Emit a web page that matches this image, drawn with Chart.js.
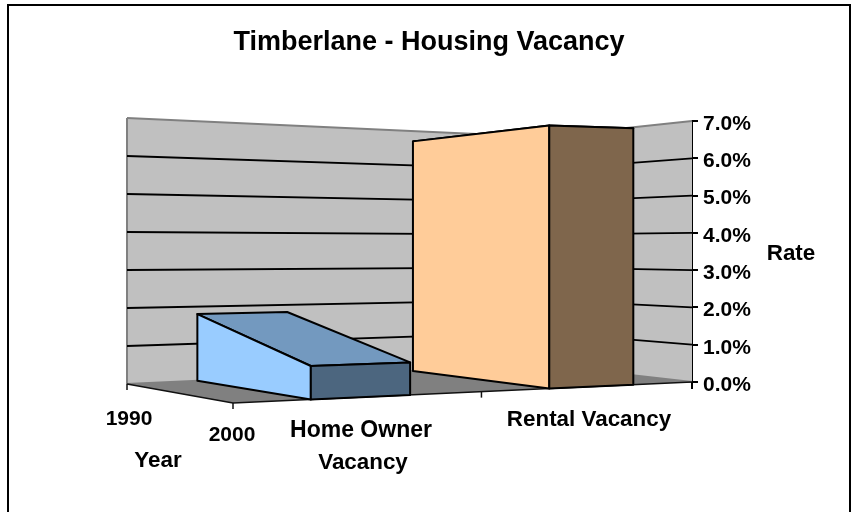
<!DOCTYPE html>
<html>
<head>
<meta charset="utf-8">
<title>Timberlane - Housing Vacancy</title>
<script src="https://cdn.jsdelivr.net/npm/chart.js@4"></script>
<style>
    html, body { margin: 0; padding: 0; background: #fff; }
    canvas { display: block; }
</style>
</head>
<body>
<canvas id="chart" width="851" height="512"></canvas>
<script>
// values
const categories = ['Home Owner Vacancy', 'Rental Vacancy'];
const years = ['1990', '2000'];
const rate1990 = [1.8, 6.7];
const rate2000 = [0.8, 6.75];
const rateTicks = [0, 1, 2, 3, 4, 5, 6, 7];

const FAMILY = '"Liberation Sans", Arial, sans-serif';

// floor/top corners of the 3D box as they land on screen
const BOX = {
    backLeft: { x: 127, floor: 384, top: 118 },
    front: { x: 233, floor: 403, top: 104 },
    rear: { x: 542, floor: 365, top: 137 },
    right: { x: 692, floor: 382, top: 121 }
};

const FACES = [
    { top: '#7399BF', side: '#99CCFF', front: '#4C667F' },
    { top: '#BF9973', side: '#FFCC99', front: '#7F664C' }
];

const BAR_HALF = 0.1;
const CAT_SPREAD = 1.01;
const PERSPECTIVE = 1.18;

function lerp(a, b, t) {
    return a + (b - a) * t;
}

// u along the category axis, d towards the viewer (0 = 1990, 1 = 2000), h = share of value axis
function project(u, d, h) {
    // a bit of perspective on the category axis
    const w = u * PERSPECTIVE / (1 - u + u * PERSPECTIVE);
    const b = BOX;
    const nearX = lerp(b.front.x, b.right.x, w);
    const farX = lerp(b.backLeft.x, b.rear.x, w);
    const nearF = lerp(b.front.floor, b.right.floor, w);
    const farF = lerp(b.backLeft.floor, b.rear.floor, w);
    const nearT = lerp(b.front.top, b.right.top, w);
    const farT = lerp(b.backLeft.top, b.rear.top, w);
    return {
        x: lerp(farX, nearX, d),
        y: lerp(lerp(farF, nearF, d), lerp(farT, nearT, d), h)
    };
}

function poly(ctx, pts, fill, stroke, lineWidth) {
    ctx.beginPath();
    pts.forEach((p, i) => i ? ctx.lineTo(p.x, p.y) : ctx.moveTo(p.x, p.y));
    ctx.closePath();
    if (fill) {
        ctx.fillStyle = fill;
        ctx.fill();
    }
    if (stroke) {
        ctx.strokeStyle = stroke;
        ctx.lineWidth = lineWidth;
        ctx.lineJoin = 'round';
        ctx.stroke();
    }
}

function segment(ctx, x1, y1, x2, y2, color, lineWidth) {
    ctx.beginPath();
    ctx.moveTo(x1, y1);
    ctx.lineTo(x2, y2);
    ctx.strokeStyle = color;
    ctx.lineWidth = lineWidth;
    ctx.stroke();
}

const heightOf = (scale, v) => (scale.bottom - scale.getPixelForValue(v)) / (scale.bottom - scale.top);

const housing3d = {
    id: 'housing3d',
    afterLayout(chart) {
        // title is centred on the chart box, not on what is left beside the padding
        chart.titleBlock.left = 7;
        chart.titleBlock.right = 851;
    },
    beforeDatasetsDraw(chart) {
        const ctx = chart.ctx;
        const y = chart.scales.y;
        const b = BOX;
        ctx.save();

        // back walls
        poly(ctx, [
            { x: b.backLeft.x, y: b.backLeft.floor }, { x: b.backLeft.x, y: b.backLeft.top },
            { x: b.rear.x, y: b.rear.top }, { x: b.right.x, y: b.right.top },
            { x: b.right.x, y: b.right.floor }, { x: b.rear.x, y: b.rear.floor }
        ], '#C0C0C0');
        segment(ctx, b.backLeft.x, b.backLeft.floor, b.backLeft.x, b.backLeft.top, '#808080', 2);

        // floor
        poly(ctx, [
            { x: b.backLeft.x, y: b.backLeft.floor }, { x: b.front.x, y: b.front.floor },
            { x: b.right.x, y: b.right.floor }, { x: b.rear.x, y: b.rear.floor }
        ], '#808080');

        // gridlines follow the walls
        rateTicks.forEach(v => {
            const h = heightOf(y, v);
            const color = (v === 0 || v === rateTicks[rateTicks.length - 1]) ? '#808080' : '#000';
            const yl = lerp(b.backLeft.floor, b.backLeft.top, h);
            const yr = lerp(b.rear.floor, b.rear.top, h);
            const yn = lerp(b.right.floor, b.right.top, h);
            ctx.lineJoin = 'round';
            ctx.beginPath();
            ctx.moveTo(b.backLeft.x, yl);
            ctx.lineTo(b.rear.x, yr);
            ctx.lineTo(b.right.x, yn);
            ctx.strokeStyle = color;
            ctx.lineWidth = 1.8;
            ctx.stroke();
        });

        // axes on the floor
        segment(ctx, b.backLeft.x, b.backLeft.floor, b.front.x, b.front.floor, '#111', 1.5);
        segment(ctx, b.front.x, b.front.floor, b.right.x, b.right.floor, '#111', 1.5);
        segment(ctx, b.backLeft.x, b.backLeft.floor, b.backLeft.x, b.backLeft.floor + 6, '#111', 1.5);
        segment(ctx, b.front.x, b.front.floor, b.front.x, b.front.floor + 6, '#111', 1.5);
        const mid = project(0.5, 1, 0);
        segment(ctx, mid.x, mid.y, mid.x, mid.y + 6, '#111', 1.5);
        segment(ctx, b.right.x, b.right.floor, b.right.x, b.right.floor + 7, '#000', 2);

        ctx.restore();
    },
    afterDatasetsDraw(chart) {
        const ctx = chart.ctx;
        const { x: xs, y } = chart.scales;
        const [back, near] = chart.data.datasets;
        ctx.save();

        categories.forEach((_, i) => {
            const raw = (xs.getPixelForValue(i) - chart.chartArea.left) / chart.chartArea.width;
            const u = 0.5 + (raw - 0.5) * CAT_SPREAD;
            const u0 = u - BAR_HALF;
            const u1 = u + BAR_HALF;
            const hb = heightOf(y, back.data[i]);
            const hn = heightOf(y, near.data[i]);
            const c = FACES[i];

            poly(ctx, [project(u0, 0, hb), project(u1, 0, hb), project(u1, 1, hn), project(u0, 1, hn)], c.top, '#000', 2);
            poly(ctx, [project(u0, 0, 0), project(u0, 0, hb), project(u0, 1, hn), project(u0, 1, 0)], c.side, '#000', 2);
            poly(ctx, [project(u0, 1, 0), project(u0, 1, hn), project(u1, 1, hn), project(u1, 1, 0)], c.front, '#000', 2);
        });

        // labels the library has no place for on a slanted axis
        ctx.fillStyle = '#000';
        ctx.textAlign = 'center';
        ctx.textBaseline = 'middle';
        ctx.font = 'bold 21px ' + FAMILY;
        ctx.fillText(years[0], 129, 419);
        ctx.fillText(years[1], 232, 435);
        ctx.font = 'bold 22.4px ' + FAMILY;
        ctx.fillText('Year', 158, 461);
        ctx.fillText('Vacancy', 363, 463);
        ctx.fillText('Rate', 791, 254);
        ctx.fillText(categories[1], 589, 420);
        ctx.font = 'bold 23px ' + FAMILY;
        ctx.fillText('Home Owner', 361, 431);

        // outer frame, the picture is cut off below
        ctx.beginPath();
        ctx.moveTo(8, 512);
        ctx.lineTo(8, 5);
        ctx.lineTo(850, 5);
        ctx.lineTo(850, 512);
        ctx.strokeStyle = '#000';
        ctx.lineWidth = 2;
        ctx.lineJoin = 'miter';
        ctx.stroke();
        ctx.restore();
    }
};

new Chart(document.getElementById('chart'), {
    type: 'bar',
    data: {
        labels: categories,
        datasets: [
            { label: years[0], data: rate1990, backgroundColor: 'transparent', borderWidth: 0 },
            { label: years[1], data: rate2000, backgroundColor: 'transparent', borderWidth: 0 }
        ]
    },
    plugins: [housing3d],
    options: {
        responsive: false,
        animation: false,
        layout: { padding: { top: 26, left: 233, right: 0, bottom: 130 } },
        plugins: {
            legend: { display: false },
            tooltip: { enabled: false },
            title: {
                display: true,
                text: 'Timberlane - Housing Vacancy',
                color: '#000',
                font: { family: FAMILY, size: 27, weight: 'bold' },
                padding: { top: 0, bottom: 62.6 }
            }
        },
        scales: {
            x: { display: false, offset: true },
            y: {
                position: 'right',
                min: 0,
                max: 7,
                afterFit(scale) { scale.width = 159; },
                afterBuildTicks(scale) { scale.ticks = rateTicks.map(value => ({ value })); },
                border: { display: true, color: '#000', width: 2 },
                grid: { drawOnChartArea: false, color: '#000', lineWidth: 2, tickLength: 6 },
                ticks: {
                    color: '#000',
                    padding: 5,
                    labelOffset: 3,
                    font: { family: FAMILY, size: 21, weight: 'bold' },
                    callback: v => v.toFixed(1) + '%'
                }
            }
        }
    }
});
</script>
</body>
</html>
